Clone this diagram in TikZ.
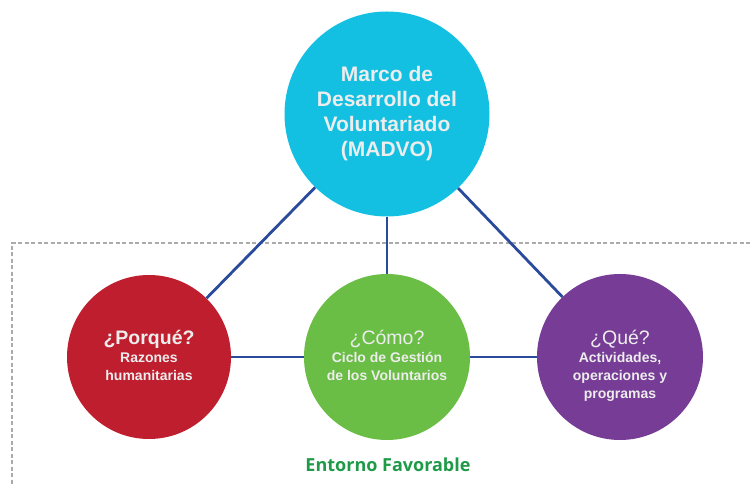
\documentclass[tikz,border=0pt]{standalone}
\usepackage{fontspec}
\setmainfont{Liberation Sans}
\newfontfamily\entornofont{Open Sans}
\definecolor{madvo}{HTML}{14C0E2}
\definecolor{porque}{HTML}{BE1E2D}
\definecolor{como}{HTML}{6ABD45}
\definecolor{que}{HTML}{763C96}
\definecolor{enlace}{HTML}{2A4A9C}
\definecolor{entorno}{HTML}{1E9A48}
\tikzset{
  bola/.style={circle, inner sep=0pt},
  texto/.style={inner sep=0pt, anchor=north, text=white!93!black, align=center,
    font=\bfseries\fontsize{14}{18}\selectfont},
  enlace/.style={draw=enlace, line width=2.8pt},
  borde/.style={draw=black!33, line width=2.5pt, dash pattern=on 4pt off 2.5pt}
}
\newcommand{\pregunta}[1]{{\fontsize{19.5}{18}\selectfont #1}}
\begin{document}
\begin{tikzpicture}[x=1pt, y=1pt]
      \useasboundingbox (0,0) rectangle (750,486);
      \coordinate (esq) at (12,243);
      \coordinate (der) at (750,243);
      \coordinate (abajo) at (12,0);
      \draw[borde] (der) -- (esq) -- (abajo);
      \node[bola, fill=madvo, minimum size=205pt] (marco) at (387,372) {};
      \node[bola, fill=porque, minimum size=164pt] (porque) at (149,129) {};
      \node[bola, fill=como, minimum size=166pt] (como) at (387,129) {};
      \node[bola, fill=que, minimum size=166pt] (que) at (620,129) {};
      \node[texto, anchor=center, font=\bfseries\fontsize{21}{25}\selectfont] (marco-t) at (marco)
        {Marco de\\Desarrollo del\\Voluntariado\\(MADVO)};
      \node[texto] (porque-t) at ([yshift=27pt]porque.center)
        {\pregunta{¿Porqué?}\\Razones\\humanitarias};
      \node[texto] (como-t) at ([yshift=27pt]como.center)
        {\pregunta{\mdseries ¿Cómo?}\\Ciclo de Gestión\\de los Voluntarios};
      \node[texto] (que-t) at ([yshift=27pt]que.center)
        {\pregunta{\mdseries ¿Qué?}\\Actividades,\\operaciones y\\programas};
      \draw[enlace] (marco) -- (porque);
      \draw[enlace] (marco) -- (como);
      \draw[enlace] (marco) -- (que);
      \draw[enlace] (porque) -- (como);
      \draw[enlace] (como) -- (que);
      \node[text=entorno, font=\entornofont\bfseries\fontsize{18}{20}\selectfont] (entorno) at (388,21) {Entorno Favorable};
    \end{tikzpicture}
\end{document}
